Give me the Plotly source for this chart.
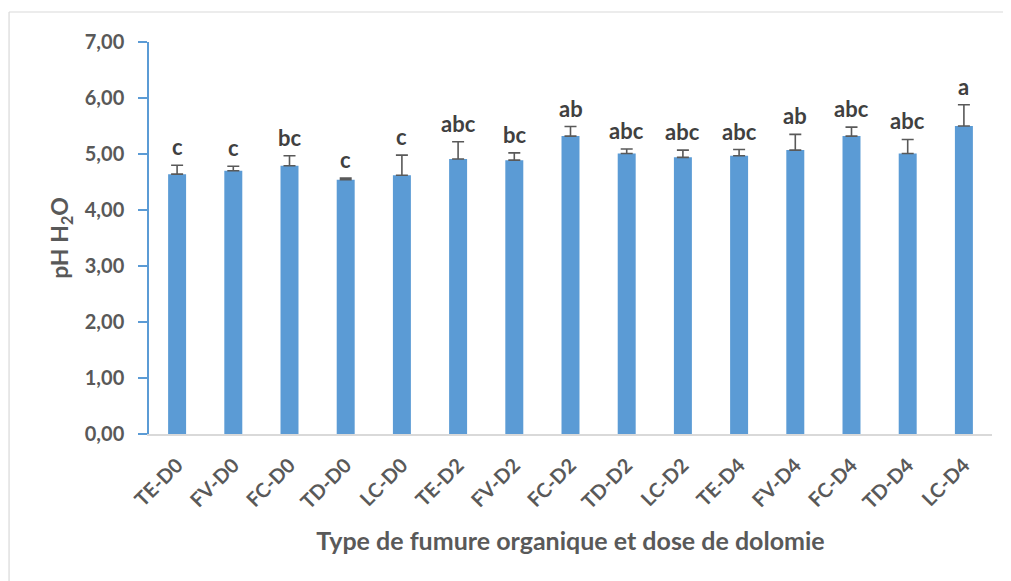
import plotly.graph_objects as go

categories = ["TE-D0", "FV-D0", "FC-D0", "TD-D0", "LC-D0",
              "TE-D2", "FV-D2", "FC-D2", "TD-D2", "LC-D2",
              "TE-D4", "FV-D4", "FC-D4", "TD-D4", "LC-D4"]
ph_values = [4.64, 4.70, 4.79, 4.54, 4.62,
             4.91, 4.89, 5.32, 5.01, 4.94,
             4.97, 5.07, 5.32, 5.01, 5.50]
errors = [0.16, 0.08, 0.18, 0.03, 0.36,
          0.31, 0.13, 0.17, 0.08, 0.13,
          0.11, 0.28, 0.16, 0.25, 0.38]
letters = ["c", "c", "bc", "c", "c",
           "abc", "bc", "ab", "abc", "abc",
           "abc", "ab", "abc", "abc", "a"]
y_ticks = [0, 1, 2, 3, 4, 5, 6, 7]
y_tick_text = ["0,00", "1,00", "2,00", "3,00", "4,00", "5,00", "6,00", "7,00"]

FONT = "Lato"
GREY = "#595959"

fig = go.Figure()
fig.add_trace(go.Bar(
    x=categories, y=ph_values,
    marker=dict(color="#5B9BD5", line=dict(width=0)),
    error_y=dict(type="data", array=errors, symmetric=False,
                 arrayminus=[0] * len(errors),
                 color="#595959", thickness=1.6, width=6),
    width=0.32,
))

for c, v, e, t in zip(categories, ph_values, errors, letters):
    fig.add_annotation(x=c, y=v + e, text=t, showarrow=False,
                       yanchor="bottom", yshift=3,
                       font=dict(family=FONT, size=22, color="#404040", weight="bold"))

fig.update_layout(
    width=1003, height=573,
    margin=dict(l=141, r=19, t=34, b=147),
    paper_bgcolor="white", plot_bgcolor="white",
    showlegend=False,
    font=dict(family=FONT, color=GREY),
    xaxis=dict(
        tickangle=-45,
        tickfont=dict(family=FONT, size=20, color=GREY, weight="bold"),
        ticklabelstandoff=10,
        showline=True, linecolor="#D9D9D9", linewidth=1.5,
        ticks="", showgrid=False,
        title=dict(text="Type de fumure organique et dose de dolomie",
                   font=dict(family=FONT, size=25, color=GREY, weight="bold"),
                   standoff=20),
    ),
    yaxis=dict(
        range=[0, 7],
        tickvals=y_ticks, ticktext=y_tick_text,
        tickfont=dict(family=FONT, size=20, color=GREY, weight="bold"),
        ticklabelstandoff=10,
        showline=True, linecolor="#5B9BD5", linewidth=1.5,
        ticks="outside", tickcolor="#5B9BD5", ticklen=9, tickwidth=1.5,
        showgrid=False, zeroline=False,
        title=dict(text="pH H<sub>2</sub>O",
                   font=dict(family=FONT, size=23, color=GREY, weight="bold"),
                   standoff=10),
    ),
)

# chart-area border (top and left edges visible)
fig.add_shape(type="line", xref="paper", yref="paper",
              x0=-0.166, x1=1.03, y0=1.0765, y1=1.0765,
              line=dict(color="#D9D9D9", width=1.2))
fig.add_shape(type="line", xref="paper", yref="paper",
              x0=-0.166, x1=-0.166, y0=1.0765, y1=-0.4,
              line=dict(color="#D9D9D9", width=1.2))

fig.write_html("out.html")
